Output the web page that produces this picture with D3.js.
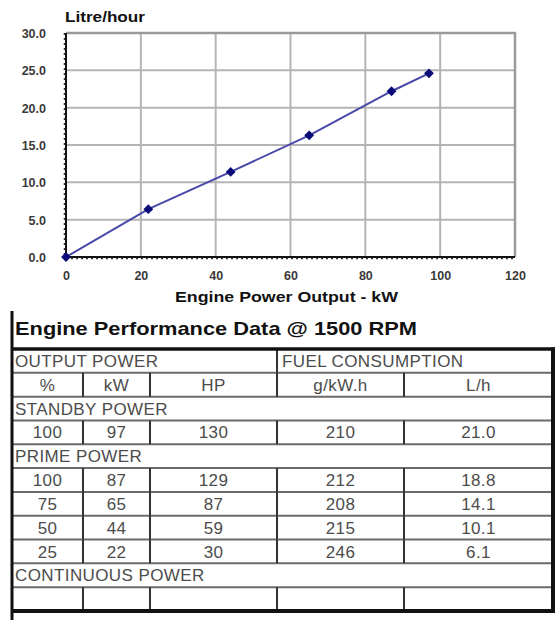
<!DOCTYPE html>
<html>
<head>
<meta charset="utf-8">
<script src="https://cdn.jsdelivr.net/npm/d3@7"></script>
<style>
  body { margin: 0; background: #fff; }
  svg { display: block; font-family: "Liberation Sans", Arial, sans-serif; }
</style>
</head>
<body>
<div id="chart"></div>
<script>
// fuel curve
var powerKw = [0, 22, 44, 65, 87, 97];
var litresPerHour = [0, 6.4, 11.4, 16.3, 22.2, 24.6];
var xTicks = [0, 20, 40, 60, 80, 100, 120];
var yTicks = [0, 5, 10, 15, 20, 25, 30];

// table contents
var tableTitle = "Engine Performance Data @ 1500 RPM";
var groupHeaders = ["OUTPUT POWER", "FUEL CONSUMPTION"];
var columnLabels = ["%", "kW", "HP", "g/kW.h", "L/h"];
var standbyRows = [["100", "97", "130", "210", "21.0"]];
var primeRows = [
    ["100", "87", "129", "212", "18.8"],
    ["75", "65", "87", "208", "14.1"],
    ["50", "44", "59", "215", "10.1"],
    ["25", "22", "30", "246", "6.1"]
];
var continuousRows = [["", "", "", "", ""]];

var W = 560, H = 625;
var svg = d3.select("#chart").append("svg")
    .attr("width", W)
    .attr("height", H);

/* ---------- line chart ---------- */
var x = d3.scaleLinear().domain([0, 120]).range([66, 515]);
var y = d3.scaleLinear().domain([0, 30]).range([257, 33]);

var g = svg.append("g");

// grid
g.selectAll("line.vgrid")
    .data(xTicks.slice(1))
    .enter().append("line")
    .attr("x1", function(d) { return x(d); })
    .attr("x2", function(d) { return x(d); })
    .attr("y1", y(30)).attr("y2", y(0))
    .attr("stroke", "#b4b4b4").attr("stroke-width", 2);

g.selectAll("line.hgrid")
    .data(yTicks.slice(1))
    .enter().append("line")
    .attr("x1", x(0)).attr("x2", x(120))
    .attr("y1", function(d) { return y(d); })
    .attr("y2", function(d) { return y(d); })
    .attr("stroke", "#b4b4b4").attr("stroke-width", 2);

// top / right border a bit darker
g.append("path")
    .attr("d", "M" + x(0) + "," + y(30) + "H" + x(120) + "V" + y(0))
    .attr("fill", "none").attr("stroke", "#9a9a9a").attr("stroke-width", 2.5);

// axes: solid black line with a dashed fringe
g.append("line").attr("x1", x(0)).attr("x2", x(0)).attr("y1", y(30)).attr("y2", y(0))
    .attr("stroke", "#111").attr("stroke-width", 2);
g.append("line").attr("x1", x(0) - 1.5).attr("x2", x(0) - 1.5).attr("y1", y(30)).attr("y2", y(0))
    .attr("stroke", "#333").attr("stroke-width", 1.5).attr("stroke-dasharray", "2,3");
g.append("line").attr("x1", x(0)).attr("x2", x(120)).attr("y1", y(0)).attr("y2", y(0))
    .attr("stroke", "#111").attr("stroke-width", 2);
g.append("line").attr("x1", x(0)).attr("x2", x(120)).attr("y1", y(0) + 1.5).attr("y2", y(0) + 1.5)
    .attr("stroke", "#333").attr("stroke-width", 1.5).attr("stroke-dasharray", "2,3");

// tick labels via d3 axes (no lines)
var yAxis = g.append("g")
    .attr("transform", "translate(" + (x(0) - 17) + ",0)")
    .call(d3.axisLeft(y).tickValues(yTicks).tickFormat(d3.format(".1f")).tickSize(0));
var xAxis = g.append("g")
    .attr("transform", "translate(0," + (y(0) + 11) + ")")
    .call(d3.axisBottom(x).tickValues(xTicks).tickSize(0));
[yAxis, xAxis].forEach(function(a) {
    a.select("path.domain").remove();
    a.selectAll("text")
        .attr("fill", "#3a3a3a")
        .style("font-size", "12.5px")
        .style("font-weight", "bold");
});
yAxis.selectAll("text").attr("dx", "0").attr("dy", "0.36em");

// series
var pts = powerKw.map(function(d, i) { return [d, litresPerHour[i]]; });
g.append("path")
    .datum(pts)
    .attr("d", d3.line().x(function(d) { return x(d[0]); }).y(function(d) { return y(d[1]); }))
    .attr("fill", "none")
    .attr("stroke", "#4848a8")
    .attr("stroke-width", 2);

// diamonds = squares turned 45deg
g.selectAll("path.marker")
    .data(pts)
    .enter().append("path")
    .attr("d", d3.symbol().type(d3.symbolSquare).size(48))
    .attr("transform", function(d) { return "translate(" + x(d[0]) + "," + y(d[1]) + ") rotate(45)"; })
    .attr("fill", "#0a0a78");

// titles
g.append("text")
    .attr("x", 65).attr("y", 22)
    .attr("textLength", 80).attr("lengthAdjust", "spacingAndGlyphs")
    .style("font-size", "14px").style("font-weight", "bold")
    .attr("fill", "#111")
    .text("Litre/hour");

g.append("text")
    .attr("x", 175).attr("y", 302)
    .attr("textLength", 223).attr("lengthAdjust", "spacingAndGlyphs")
    .style("font-size", "15px").style("font-weight", "bold")
    .attr("fill", "#111")
    .text("Engine Power Output - kW");

/* ---------- table ---------- */
var colEdges = [12, 83, 150, 277, 404, 553];
var rowsSpec = [
    { type: "group" },
    { type: "data", cells: columnLabels },
    { type: "section", label: "STANDBY POWER" }
].concat(standbyRows.map(function(r) { return { type: "data", cells: r }; }))
 .concat([{ type: "section", label: "PRIME POWER" }])
 .concat(primeRows.map(function(r) { return { type: "data", cells: r }; }))
 .concat([{ type: "section", label: "CONTINUOUS POWER" }])
 .concat(continuousRows.map(function(r) { return { type: "data", cells: r }; }));

var rowY = d3.scaleLinear().domain([0, rowsSpec.length]).range([349, 611]);
var t = svg.append("g");

t.append("text")
    .attr("x", 15).attr("y", 335)
    .attr("textLength", 402).attr("lengthAdjust", "spacingAndGlyphs")
    .style("font-size", "19px").style("font-weight", "bold")
    .attr("fill", "#111")
    .text(tableTitle);

// horizontal rules
t.selectAll("line.hr")
    .data(d3.range(1, rowsSpec.length))
    .enter().append("line")
    .attr("x1", colEdges[0]).attr("x2", colEdges[5])
    .attr("y1", function(i) { return rowY(i); })
    .attr("y2", function(i) { return rowY(i); })
    .attr("stroke", "#6a6a6a").attr("stroke-width", 2);

// vertical rules per row
rowsSpec.forEach(function(r, i) {
    var edges = r.type === "data" ? colEdges.slice(1, 5) : (r.type === "group" ? [colEdges[3]] : []);
    t.selectAll(null)
        .data(edges)
        .enter().append("line")
        .attr("x1", function(d) { return d; }).attr("x2", function(d) { return d; })
        .attr("y1", rowY(i)).attr("y2", rowY(i + 1))
        .attr("stroke", "#333").attr("stroke-width", 2);
});

// text in rows
var txtStyle = function(s) {
    s.style("font-size", "17px").style("letter-spacing", "0.4px")
        .attr("fill", "#4c4c4c").attr("dy", "0.36em");
};
rowsSpec.forEach(function(r, i) {
    var cy = (rowY(i) + rowY(i + 1)) / 2;
    if (r.type === "group") {
        t.append("text").attr("x", 15).attr("y", cy).text(groupHeaders[0]).call(txtStyle);
        t.append("text").attr("x", colEdges[3] + 5).attr("y", cy).text(groupHeaders[1]).call(txtStyle);
    } else if (r.type === "section") {
        t.append("text").attr("x", 15).attr("y", cy).text(r.label).call(txtStyle);
    } else {
        t.selectAll(null)
            .data(r.cells)
            .enter().append("text")
            .attr("x", function(d, j) { return (colEdges[j] + colEdges[j + 1]) / 2; })
            .attr("y", cy)
            .attr("text-anchor", "middle")
            .text(function(d) { return d; })
            .call(txtStyle);
    }
});

// heavy frame
t.append("line").attr("x1", 12).attr("x2", 12).attr("y1", 311).attr("y2", 620)
    .attr("stroke", "#111").attr("stroke-width", 3);
t.append("line").attr("x1", 12).attr("x2", 555).attr("y1", rowY(0)).attr("y2", rowY(0))
    .attr("stroke", "#111").attr("stroke-width", 3.5);
t.append("line").attr("x1", 553).attr("x2", 553).attr("y1", rowY(0) - 1.5).attr("y2", rowY(rowsSpec.length) + 2)
    .attr("stroke", "#111").attr("stroke-width", 4);
t.append("line").attr("x1", 12).attr("x2", 555).attr("y1", rowY(rowsSpec.length)).attr("y2", rowY(rowsSpec.length))
    .attr("stroke", "#111").attr("stroke-width", 4);
</script>
</body>
</html>
